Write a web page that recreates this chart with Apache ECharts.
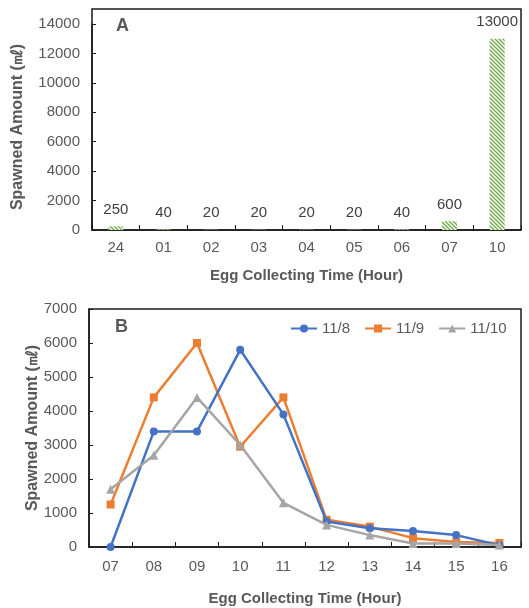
<!DOCTYPE html>
<html><head><meta charset="utf-8">
<script src="https://cdn.jsdelivr.net/npm/echarts@6/dist/echarts.min.js"></script>
<style>html,body{margin:0;padding:0;background:#fff}#c{width:529px;height:608px}</style>
</head><body><div id="c"></div>
<script>
var catsA = ['24','01','02','03','04','05','06','07','10'];
var valsA = [250,40,20,20,20,20,40,600,13000];
var yTicksA = [0,2000,4000,6000,8000,10000,12000,14000];
var catsB = ['07','08','09','10','11','12','13','14','15','16'];
var s118 = [0,3400,3400,5800,3900,750,550,470,350,50];
var s119 = [1250,4400,6000,2950,4400,800,600,260,150,120];
var s1110 = [1700,2700,4400,3000,1300,650,350,100,100,60];
var yTicksB = [0,1000,2000,3000,4000,5000,6000,7000];
var seriesNames = ['11/8','11/9','11/10'];

var pc = document.createElement('canvas');
pc.width = 4; pc.height = 4;
var g = pc.getContext('2d');
g.fillStyle = '#ffffff'; g.fillRect(0,0,4,4);
g.strokeStyle = '#70AD47'; g.lineWidth = 1.4;
g.beginPath(); g.moveTo(-1,-1); g.lineTo(5,5); g.moveTo(-1,3); g.lineTo(1,5); g.moveTo(3,-1); g.lineTo(5,1); g.stroke();

var font = "'Liberation Sans Narrow','Arial Narrow','Liberation Sans',Arial,sans-serif";
var txt = '#595959';
var chart = echarts.init(document.getElementById('c'), null, {renderer:'canvas'});
function lbl(m){ return {color: txt, fontSize: 15, fontFamily: font, margin: m, formatter: function(v){ return String(v); }}; }
var axisLine = {show:true, lineStyle:{color:'#1a1a1a', width:1.5}};
var nameStyle = {color: txt, fontSize: 15, fontWeight:'bold', fontFamily: "'Liberation Sans',Arial,sans-serif"};
var yNameStyle = {color: txt, fontSize: 16, fontWeight:'bold', fontFamily: "'Liberation Sans',Arial,sans-serif"};
chart.setOption({
  animation:false,
  grid:[
    {left:92, right:8, top:24, bottom:378},
    {left:89, right:8, top:309, bottom:61}
  ],
  legend:{
    data: seriesNames, top: 316, left: 285, itemGap: 14, itemWidth: 26, itemHeight: 10,
    textStyle:{color: txt, fontSize: 15, fontFamily: font}
  },
  graphic:[
    {type:'rect', shape:{x:92, y:9, width:429, height:221}, style:{fill:'none', stroke:'#1a1a1a', lineWidth:1.5}, z:0},
    {type:'rect', shape:{x:89, y:309, width:432, height:238}, style:{fill:'none', stroke:'#1a1a1a', lineWidth:1.5}, z:0},
    {type:'text', left:116, top:17, style:{text:'A', fill:txt, fontSize:18, fontWeight:'bold', fontFamily:"'Liberation Sans',Arial,sans-serif"}},
    {type:'text', left:115, top:318, style:{text:'B', fill:txt, fontSize:18, fontWeight:'bold', fontFamily:"'Liberation Sans',Arial,sans-serif"}}
  ],
  xAxis:[
    {gridIndex:0, type:'category', data:catsA, axisLine:axisLine,
     axisTick:{show:true, inside:true, length:5, lineStyle:{color:'#1a1a1a'}}, axisLabel:lbl(10),
     name:'Egg Collecting Time (Hour)', nameLocation:'middle', nameGap:38, nameMoveOverlap:false, nameTextStyle:nameStyle},
    {gridIndex:1, type:'category', data:catsB, axisLine:axisLine,
     axisTick:{show:true, inside:true, length:5, lineStyle:{color:'#1a1a1a'}}, axisLabel:lbl(12),
     name:'Egg Collecting Time (Hour)', nameLocation:'middle', nameGap:44, nameMoveOverlap:false, nameTextStyle:nameStyle}
  ],
  yAxis:[
    {gridIndex:0, type:'value', min:0, max:14000, interval:2000, axisLine:axisLine,
     axisTick:{show:true, inside:true, length:4, lineStyle:{color:'#1a1a1a'}}, splitLine:{show:false},
     axisLabel:lbl(12),
     name:'Spawned Amount (㎖)', nameLocation:'middle', nameGap:66, nameMoveOverlap:false, nameTextStyle:yNameStyle},
    {gridIndex:1, type:'value', min:0, max:7000, interval:1000, axisLine:axisLine,
     axisTick:{show:true, inside:true, length:4, lineStyle:{color:'#1a1a1a'}}, splitLine:{show:false},
     axisLabel:lbl(12),
     name:'Spawned Amount (㎖)', nameLocation:'middle', nameGap:48, nameMoveOverlap:false, nameTextStyle:yNameStyle}
  ],
  series:[
    {type:'bar', xAxisIndex:0, yAxisIndex:0, data:valsA, barWidth:15,
     itemStyle:{color:{image:pc, repeat:'repeat'}},
     label:{show:true, position:'top', distance:9, color:'#404040', fontSize:15, fontFamily:font}},
    {name:seriesNames[0], type:'line', xAxisIndex:1, yAxisIndex:1, data:s118, symbol:'circle', symbolSize:8,
     lineStyle:{width:2.5, color:'#4472C4'}, itemStyle:{color:'#4472C4'}, z:3},
    {name:seriesNames[1], type:'line', xAxisIndex:1, yAxisIndex:1, data:s119, symbol:'rect', symbolSize:8,
     lineStyle:{width:2.5, color:'#ED7D31'}, itemStyle:{color:'#ED7D31'}, z:2},
    {name:seriesNames[2], type:'line', xAxisIndex:1, yAxisIndex:1, data:s1110, symbol:'triangle', symbolSize:9,
     lineStyle:{width:2.5, color:'#A5A5A5'}, itemStyle:{color:'#A5A5A5'}, z:4}
  ]
});
</script></body></html>
